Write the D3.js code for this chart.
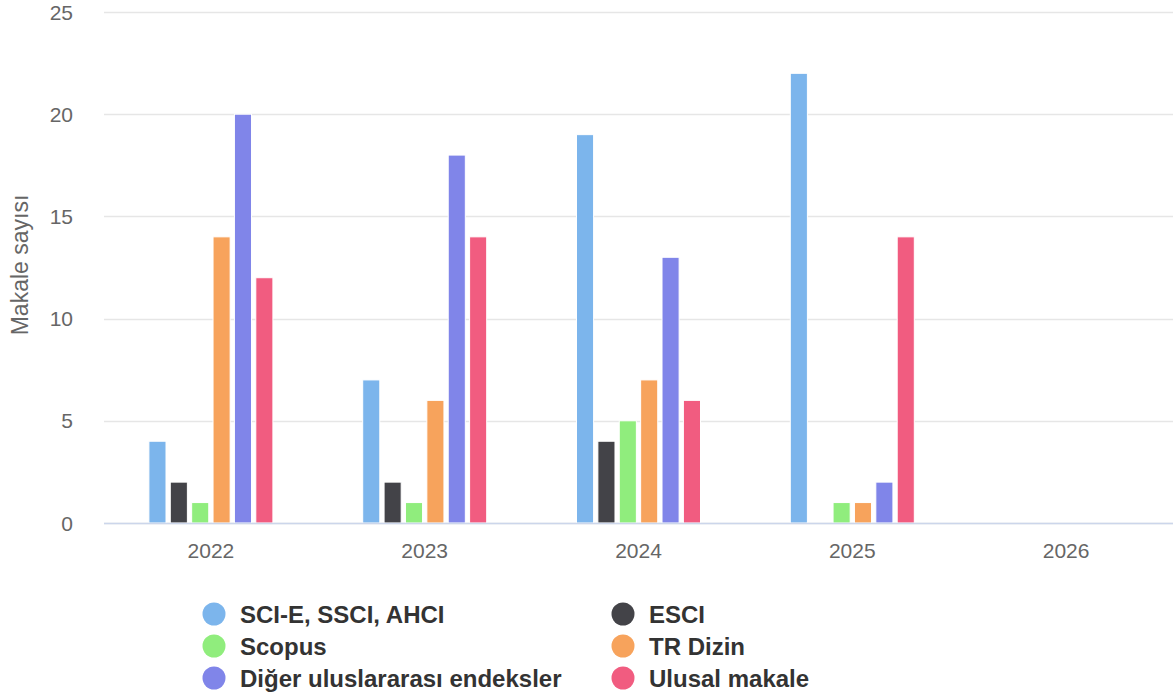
<!DOCTYPE html>
<html>
<head>
<meta charset="utf-8">
<script src="https://cdn.jsdelivr.net/npm/d3@7"></script>
<style>
  html, body { margin: 0; padding: 0; background: #fff; }
  svg { display: block; font-family: "Liberation Sans", Arial, Helvetica, sans-serif; }
</style>
</head>
<body>
<svg id="chart" width="1173" height="693"></svg>
<script>
// Publication counts per year and index type
const years = ["2022", "2023", "2024", "2025", "2026"];
const seriesNames = ["SCI-E, SSCI, AHCI", "ESCI", "Scopus", "TR Dizin", "Diğer uluslararası endeksler", "Ulusal makale"];
const seriesColors = ["#7cb5ec", "#434348", "#90ed7d", "#f7a35c", "#8085e9", "#f15c80"];
const sciValues    = [4, 7, 19, 22, 0];
const esciValues   = [2, 2, 4, 0, 0];
const scopusValues = [1, 1, 5, 1, 0];
const trValues     = [14, 6, 7, 1, 0];
const digerValues  = [20, 18, 13, 2, 0];
const ulusalValues = [12, 14, 6, 14, 0];
const yTicks = [0, 5, 10, 15, 20, 25];
const yTitle = "Makale sayısı";

const seriesValues = [sciValues, esciValues, scopusValues, trValues, digerValues, ulusalValues];

const svg = d3.select("#chart");
const plot = { left: 104, right: 1173, top: 12, bottom: 523 };

const x = d3.scaleBand().domain(years).range([plot.left, plot.right]).paddingInner(0).paddingOuter(0);
const groupPad = 0.2, pointPad = 0.1;
const xs = d3.scaleBand().domain(d3.range(seriesNames.length))
  .range([x.bandwidth() * groupPad, x.bandwidth() * (1 - groupPad)]);
const y = d3.scaleLinear().domain([0, 25]).range([plot.bottom, plot.top]);

// Horizontal grid lines
svg.append("g").selectAll("line").data(yTicks).join("line")
  .attr("x1", plot.left).attr("x2", plot.right)
  .attr("y1", d => Math.round(y(d)) + 0.5).attr("y2", d => Math.round(y(d)) + 0.5)
  .attr("stroke", "#e6e6e6").attr("stroke-width", 1.5);

// Y tick labels
svg.append("g").selectAll("text").data(yTicks).join("text")
  .attr("x", 73).attr("y", d => y(d) + 7.5)
  .attr("text-anchor", "end").attr("font-size", 21).attr("fill", "#666")
  .text(d => d);

// Y axis title
svg.append("text")
  .attr("transform", `translate(28, 265) rotate(-90)`)
  .attr("text-anchor", "middle").attr("font-size", 23).attr("fill", "#666")
  .text(yTitle);

// Bars
const groups = svg.append("g").selectAll("g").data(years).join("g")
  .attr("transform", d => `translate(${x(d)},0)`);
groups.selectAll("rect")
  .data((yr, i) => seriesValues.map((vals, s) => ({ s, v: vals[i] })).filter(d => d.v > 0))
  .join("rect")
  .attr("x", d => xs(d.s) + xs.bandwidth() * pointPad)
  .attr("width", xs.bandwidth() * (1 - 2 * pointPad))
  .attr("y", d => y(d.v))
  .attr("height", d => y(0) - y(d.v))
  .attr("fill", d => seriesColors[d.s])
  .attr("stroke", "#fff").attr("stroke-width", 1);

// X axis line
svg.append("line")
  .attr("x1", plot.left).attr("x2", plot.right)
  .attr("y1", plot.bottom + 0.5).attr("y2", plot.bottom + 0.5)
  .attr("stroke", "#ccd6eb").attr("stroke-width", 1.5);

// X labels
svg.append("g").selectAll("text").data(years).join("text")
  .attr("x", d => x(d) + x.bandwidth() / 2).attr("y", 558)
  .attr("text-anchor", "middle").attr("font-size", 21).attr("fill", "#666")
  .text(d => d);

// Legend: two columns, three rows
const legend = svg.append("g");
const legendItems = seriesNames.map((name, i) => ({ name, color: seriesColors[i], col: i % 2, row: Math.floor(i / 2) }));
const colX = [214, 623], rowY = [614, 646, 678];
const li = legend.selectAll("g").data(legendItems).join("g")
  .attr("transform", d => `translate(${colX[d.col]},${rowY[d.row]})`);
li.append("circle").attr("r", 11.5).attr("fill", d => d.color);
li.append("text").attr("x", 26).attr("y", 9)
  .attr("font-size", 24).attr("font-weight", "bold").attr("fill", "#333")
  .text(d => d.name);
</script>
</body>
</html>
